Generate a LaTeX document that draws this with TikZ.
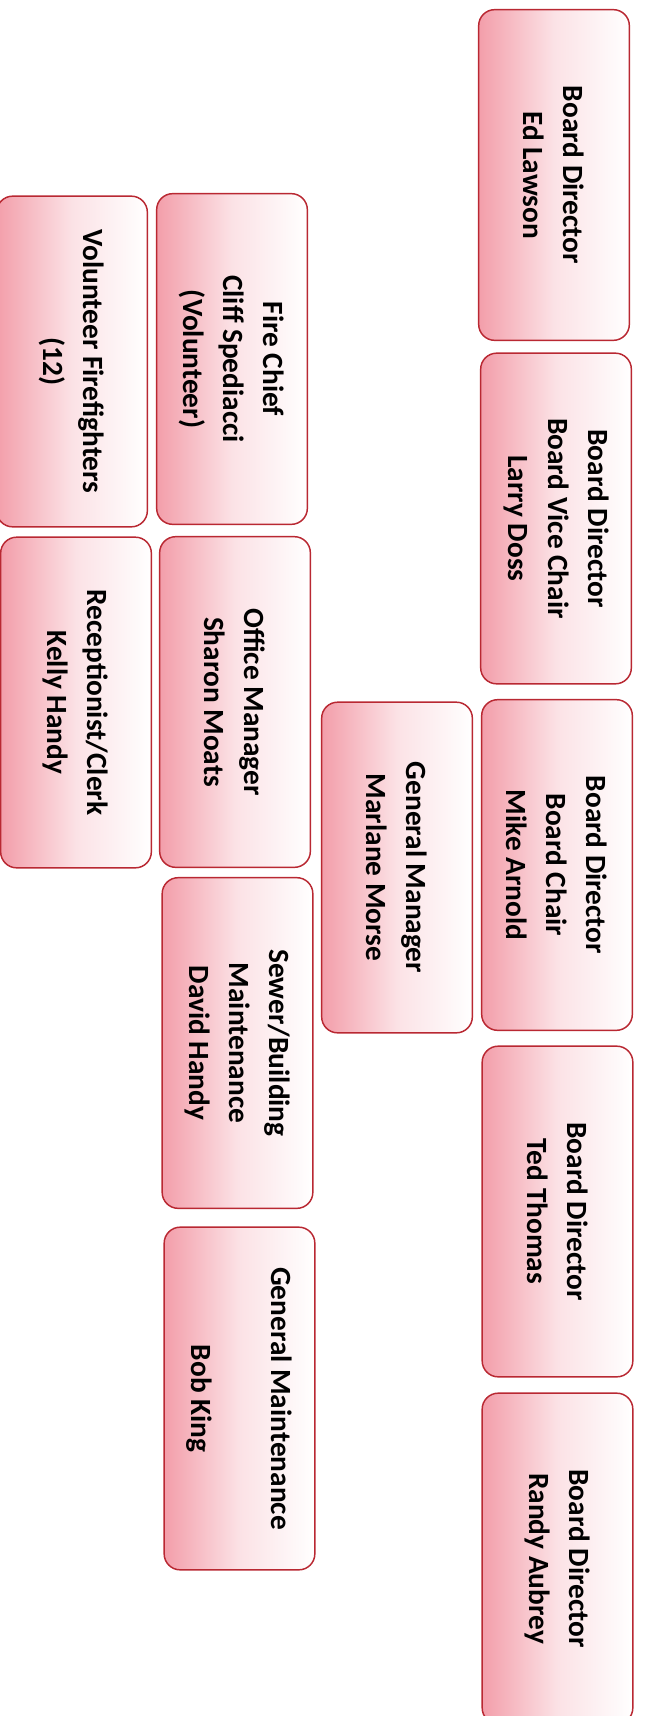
\documentclass[tikz,border=0pt]{standalone}
\usepackage{fontspec}
\setmainfont{Carlito}
\definecolor{boxpink}{RGB}{243,158,170}
\definecolor{boxline}{RGB}{185,40,50}
\tikzset{
  orgbox/.style={rectangle, rounded corners=12pt, draw=boxline, line width=1.1pt,
    left color=boxpink, right color=white, middle color=boxpink!30!white,
    rotate=-90, align=center, inner sep=0pt,
    font=\bfseries\fontsize{22}{30}\selectfont,
    minimum height=113pt, minimum width=248pt}
}
\begin{document}
\begin{tikzpicture}[x=0.75pt,y=-0.75pt]
\useasboundingbox (0,0) rectangle (645,1716);
\node[orgbox] (ed) at (554,175) {Board Director\\Ed Lawson};
\node[orgbox] (larry) at (556,518.5) {Board Director\\Board Vice Chair\\Larry Doss};
\node[orgbox] (mike) at (557,865) {Board Director\\Board Chair\\Mike Arnold};
\node[orgbox] (ted) at (557.5,1211.5) {Board Director\\Ted Thomas};
\node[orgbox] (randy) at (557.5,1558.5) {Board Director\\Randy Aubrey};
\node[orgbox] (gm) at (397,867.5) {General Manager\\Marlane Morse};
\node[orgbox] (fire) at (232,359) {Fire Chief\\Cliff Spediacci\\(Volunteer)};
\node[orgbox] (office) at (235,702) {Office Manager\\Sharon Moats};
\node[orgbox] (sewer) at (237.5,1043) {Sewer/Building\\Maintenance\\David Handy};
\node[orgbox, minimum width=257pt] (genm) at (239.5,1398.5) {General Maintenance\\\\Bob King};
\node[orgbox] (vol) at (72,361.5) {Volunteer Firefighters\\(12)};
\node[orgbox] (recep) at (76,702.5) {Receptionist/Clerk\\Kelly Handy};
\end{tikzpicture}
\end{document}
